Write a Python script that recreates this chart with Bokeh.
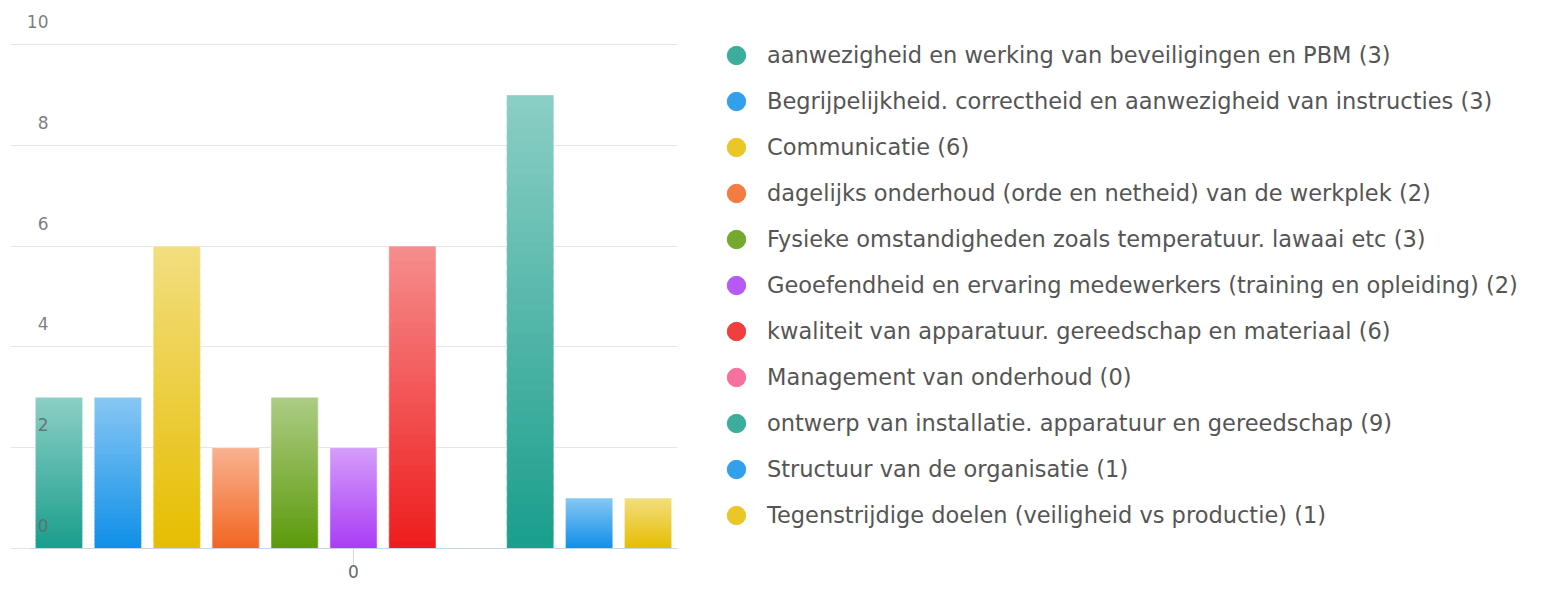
import numpy as np
from bokeh.plotting import figure
from bokeh.layouts import row
from bokeh.models import Range1d, FixedTicker, Legend, LegendItem, ColumnDataSource
from bokeh.core.properties import value
from bokeh.embed import file_html
from bokeh.resources import INLINE

# ---------------- data ----------------
categories = [
    "aanwezigheid en werking van beveiligingen en PBM",
    "Begrijpelijkheid. correctheid en aanwezigheid van instructies",
    "Communicatie",
    "dagelijks onderhoud (orde en netheid) van de werkplek",
    "Fysieke omstandigheden zoals temperatuur. lawaai etc",
    "Geoefendheid en ervaring medewerkers (training en opleiding)",
    "kwaliteit van apparatuur. gereedschap en materiaal",
    "Management van onderhoud",
    "ontwerp van installatie. apparatuur en gereedschap",
    "Structuur van de organisatie",
    "Tegenstrijdige doelen (veiligheid vs productie)",
]
counts = [3, 3, 6, 2, 3, 2, 6, 0, 9, 1, 1]
colors = ["#1a9e8c", "#0f8fe8", "#e6bd00", "#f26522", "#5c9a0a", "#a93cf5",
          "#ee1c1c", "#f5588c", "#1a9e8c", "#0f8fe8", "#e6bd00"]
y_ticks = [0, 2, 4, 6, 8, 10]
x_tick_labels = ["0"]

FONT = "DejaVu Sans"


def mix(hex_color, f):
    h = hex_color.lstrip("#")
    r, g, b = (int(h[i:i + 2], 16) for i in (0, 2, 4))
    r = round(r + (255 - r) * f)
    g = round(g + (255 - g) * f)
    b = round(b + (255 - b) * f)
    return "#%02x%02x%02x" % (r, g, b)


# ---------------- chart figure ----------------
px_per_unit = 50.4
x_start = -0.5 - 19 / 58.9
p = figure(width=681, height=584, output_backend="svg", toolbar_location=None,
           x_range=Range1d(x_start, 10.5),
           y_range=Range1d(-1 / px_per_unit, 10 + 44 / px_per_unit),
           min_border_left=10, min_border_right=4, min_border_top=0,
           min_border_bottom=35)
p.outline_line_color = None
p.background_fill_color = "white"
p.border_fill_color = "white"

# gradient bars (each bar sliced from its value)
N = 40
xs, bots, tops, cols = [], [], [], []
for i, (v, c) in enumerate(zip(counts, colors)):
    if v <= 0:
        continue
    for k in range(N):
        t = (k + 0.5) / N
        xs.append(i)
        bots.append(v * k / N)
        tops.append(min(v, v * (k + 1.6) / N))
        cols.append(mix(c, 0.5 * t))
src = ColumnDataSource(dict(x=xs, bottom=bots, top=tops, color=cols))
p.vbar(x="x", bottom="bottom", top="top", width=0.8, source=src,
       fill_color="color", line_color=None)
p.vbar(x=list(range(len(counts))), top=counts, bottom=0, width=0.8,
       fill_alpha=0, line_color="white", line_alpha=0.45, line_width=1)

# grid
p.xgrid.visible = False
p.ygrid.ticker = FixedTicker(ticks=y_ticks)
p.ygrid.grid_line_color = "#e6e6e6"

# axis line over the category area
p.segment(x0=[-0.5], y0=[0], x1=[len(counts) - 0.5], y1=[0],
          line_color="#ccd6eb", line_width=1)

# y tick labels drawn inside the plot area
p.text(x=[x_start] * len(y_ticks), y=y_ticks, text=[str(t) for t in y_ticks],
       x_offset=38, y_offset=-23, text_align="right", text_baseline="middle",
       text_font=value(FONT), text_font_size="17px", text_color="#666666",
       text_alpha=0.85)
p.yaxis.visible = False

# x axis
mid = (len(counts) - 1) / 2
xa = p.xaxis[0]
xa.ticker = FixedTicker(ticks=[mid])
xa.major_label_overrides = {mid: x_tick_labels[0]}
xa.axis_line_color = None
xa.major_tick_out = 15
xa.major_tick_in = 0
xa.minor_tick_out = 0
xa.minor_tick_in = 0
xa.major_tick_line_color = "#ccd6eb"
xa.major_label_standoff = 0
xa.major_label_text_font = FONT
xa.major_label_text_font_size = "17px"
xa.major_label_text_color = "#666666"

# ---------------- legend figure ----------------
q = figure(width=846, height=584, output_backend="svg", toolbar_location=None,
           x_range=Range1d(0, 1), y_range=Range1d(0, 1),
           min_border_left=0, min_border_right=0, min_border_top=0,
           min_border_bottom=35)
q.outline_line_color = None
q.axis.visible = False
q.grid.visible = False

items = []
for cat, n, c in zip(categories, counts, colors):
    r = q.scatter(x=[np.nan], y=[np.nan], marker="circle",
                  fill_color=mix(c, 0.15), line_color=mix(c, 0.15))
    items.append(LegendItem(label=f"{cat} ({n})", renderers=[r]))
legend = Legend(items=items, location="top_left", orientation="vertical",
                glyph_width=46, glyph_height=46, label_standoff=8,
                spacing=0, padding=0, margin=32,
                border_line_alpha=0, background_fill_alpha=0,
                label_text_font=FONT, label_text_font_size="22.5px",
                label_text_color="#555555")
q.add_layout(legend)

layout = row(p, q, spacing=0)
open("out.html", "w").write(file_html(layout, INLINE))
